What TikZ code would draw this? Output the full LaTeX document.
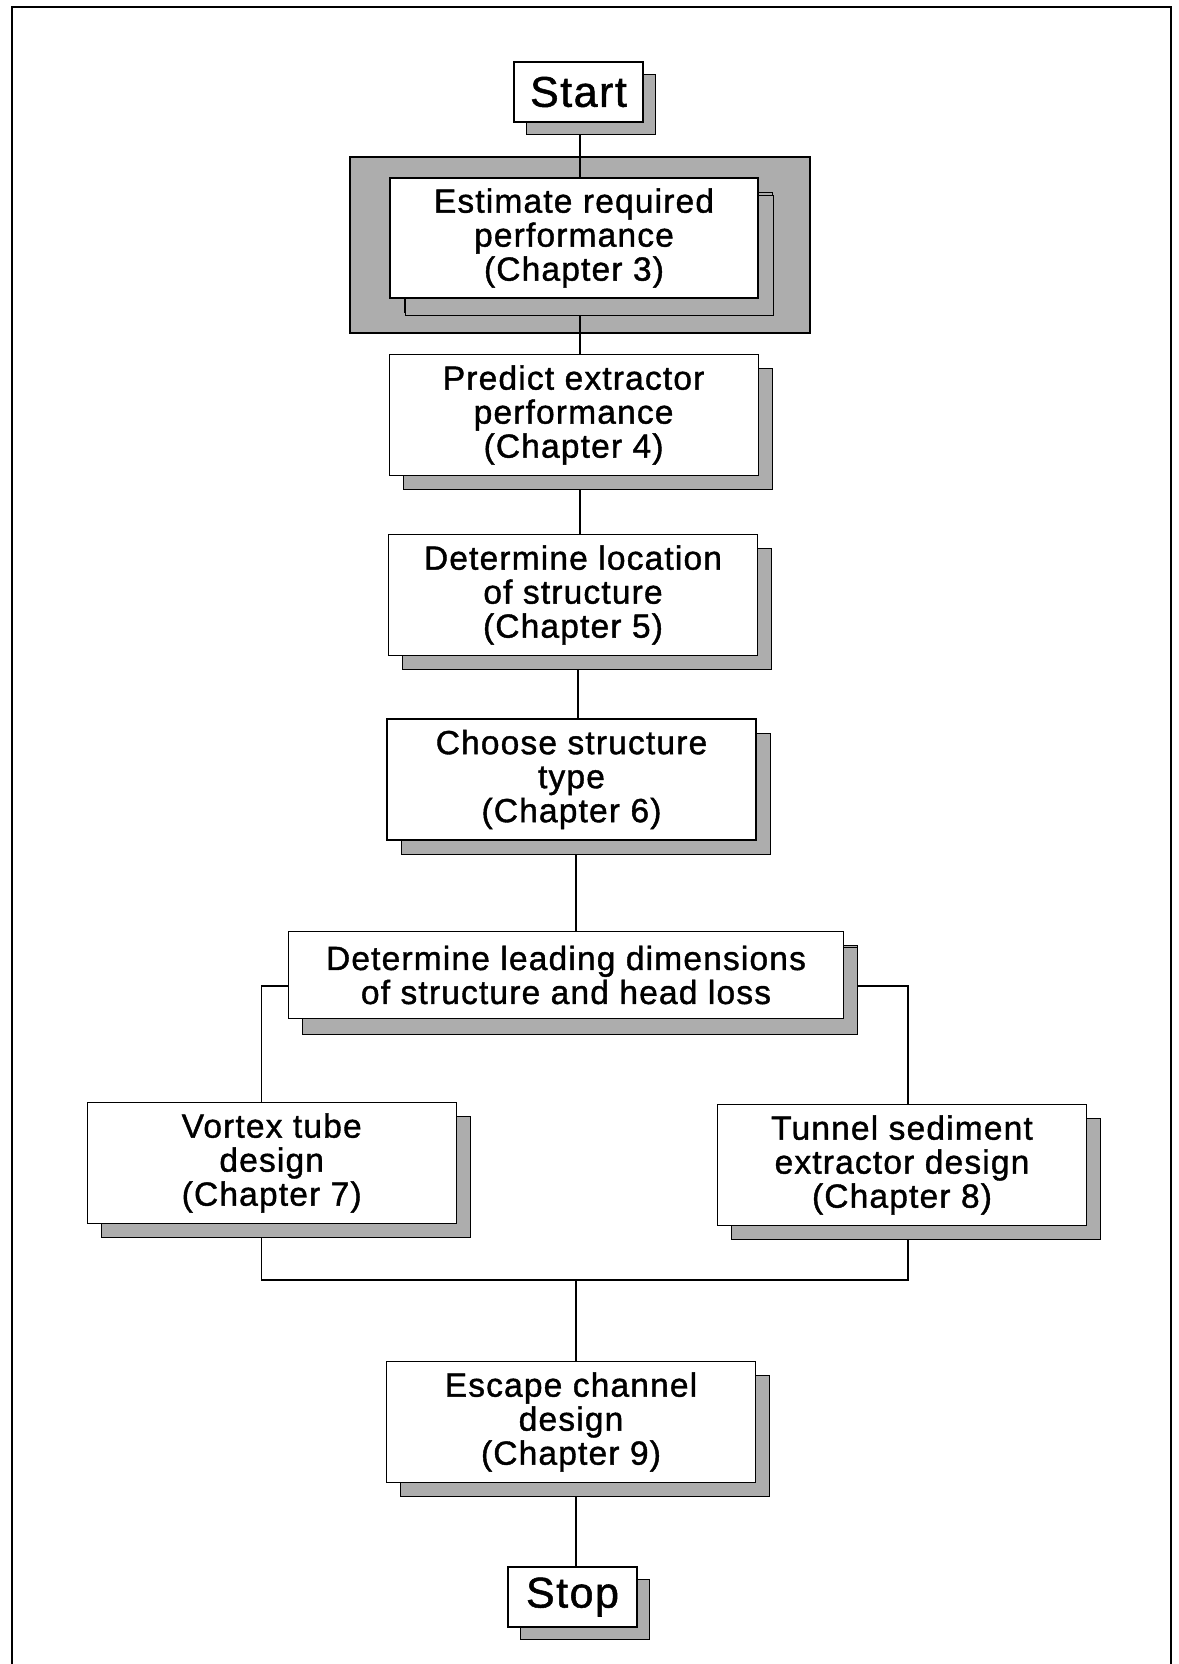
\documentclass[tikz,border=0pt]{standalone}
\usepackage{fontspec}
\setmainfont{Liberation Sans}
\newfontfamily\boxfont{Liberation Sans}[LetterSpace=3.5, FakeBold=1.2]
\usetikzlibrary{shadows}
\pgfdeclarelayer{frame}
\pgfdeclarelayer{lines}
\pgfsetlayers{frame,lines,main}
\begin{document}
\begin{tikzpicture}[x=1pt,y=-1pt,
  halftone/.style={fill=black!32},
  boxbase/.style={draw=black, line width=1.2pt, fill=white, inner sep=0pt, align=center},
  stepbox/.style={boxbase, minimum width=369pt, minimum height=121pt,
    font=\boxfont\fontsize{33.5}{34}\selectfont,
    general shadow={shadow xshift=14pt, shadow yshift=-14pt, halftone, draw=black, line width=0.8pt}},
  endbox/.style={boxbase, minimum width=129pt, minimum height=60pt,
    font=\boxfont\fontsize{43}{43}\selectfont,
    general shadow={shadow xshift=12pt, shadow yshift=-12pt, halftone, draw=black, line width=0.8pt}},
  link/.style={line width=1.5pt}
]
\useasboundingbox (0,0) rectangle (1178,1664);

% page frame, open at the bottom
\draw[line width=2pt] (12,1664) -- (12,7) -- (1171,7) -- (1171,1664);

% process boxes
\node[endbox] (start) at (578.5,92) {Start};
\node[stepbox, minimum width=368pt, minimum height=120pt,
      general shadow={shadow xshift=15pt, shadow yshift=-17pt, halftone, draw=black, line width=0.8pt}]
      (est) at (574,238) {Estimate required\\performance\\(Chapter 3)};
\node[stepbox] (pred) at (573.6,415) {Predict extractor\\performance\\(Chapter 4)};
\node[stepbox] (loc) at (573,595) {Determine location\\of structure\\(Chapter 5)};
\node[stepbox] (choose) at (571.5,779.5) {Choose structure\\type\\(Chapter 6)};
\node[stepbox, minimum width=555pt, minimum height=87pt,
      general shadow={shadow xshift=14pt, shadow yshift=-16pt, halftone, draw=black, line width=0.8pt}]
      (lead) at (566,975) {Determine leading dimensions\\of structure and head loss};
\node[stepbox] (vortex) at (271.7,1163) {Vortex tube\\design\\(Chapter 7)};
\node[stepbox] (tunnel) at (902,1165) {Tunnel sediment\\extractor design\\(Chapter 8)};
\node[stepbox] (escape) at (571,1422) {Escape channel\\design\\(Chapter 9)};
\node[endbox] (stop) at (572.5,1597) {Stop};

% shaded surround of the first step
\begin{pgfonlayer}{frame}
  \node[draw=black, line width=1.2pt, halftone, minimum width=460pt, minimum height=176pt,
        inner sep=0pt] (estframe) at (580,245) {};
\end{pgfonlayer}

% connectors
\coordinate (axis) at (580,0);
\coordinate (join) at (576,1280);
\begin{pgfonlayer}{lines}
  \draw[link] (start.south -| axis) -- (est.north -| axis);
  \draw[link] (est.south -| axis) -- (pred.north -| axis);
  \draw[link] (pred.south -| axis) -- (loc.north -| axis);
  \draw[link] ([xshift=-2pt]loc.south -| axis) -- ([xshift=-2pt]choose.north -| axis);
  \draw[link] (choose.south -| join) -- (lead.north -| join);
  \draw[link] ([yshift=-11pt]lead.west) -| ([xshift=-10pt]vortex.north);
  \draw[link] ([yshift=-11pt]lead.east) -| ([xshift=6pt]tunnel.north);
  \draw[link] ([xshift=-10pt]vortex.south) |- (join) -| ([xshift=6pt]tunnel.south);
  \draw[link] (join) -- (join |- escape.north);
  \draw[link] (escape.south -| join) -- (stop.north -| join);
\end{pgfonlayer}
\end{tikzpicture}
\end{document}
